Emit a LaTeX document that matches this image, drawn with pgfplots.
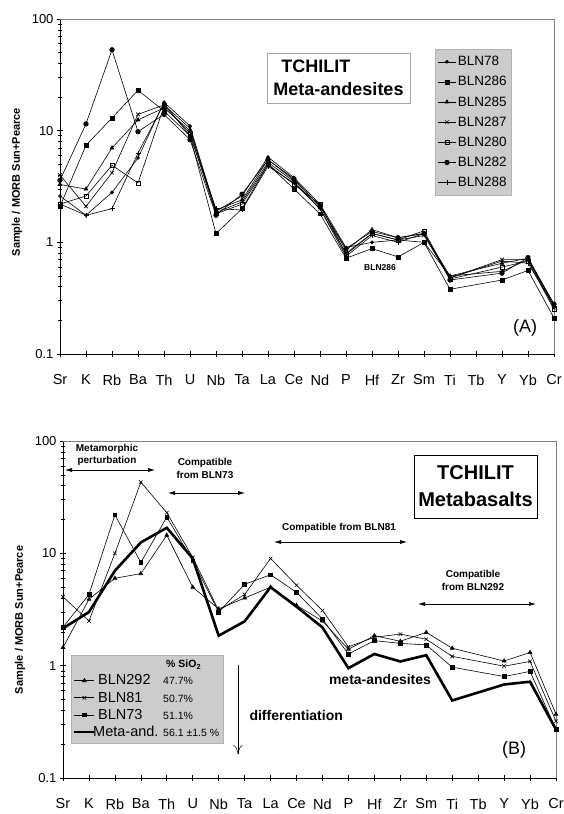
\documentclass[border=0pt]{standalone}
\usepackage{fontspec}
\setmainfont{Liberation Sans}
\usepackage{pgfplots}
\pgfplotsset{compat=1.18}
\usetikzlibrary{arrows.meta}
\begin{document}
\begin{tikzpicture}
\useasboundingbox (0,0) rectangle (563pt,-814pt);
% ---------------- Panel A ----------------
\begin{axis}[at={(60pt,-354pt)}, anchor=south west, width=494pt, height=335pt,
  scale only axis, ymode=log, ymin=0.1, ymax=100, xmin=0, xmax=19,
  axis x line*=bottom, axis y line*=left,
  xtick={0,...,19}, xticklabels={Sr,K,Rb,Ba,Th,U,Nb,Ta,La,Ce,Nd,P,Hf,Zr,Sm,Ti,Tb,Y,Yb,Cr},
  ytick={0.1,1,10,100}, yticklabels={0.1,1,10,100},
  tick align=center, major tick length=6pt, minor tick length=4pt,
  tick style={black, line width=0.6pt},
  axis line style={line width=0.7pt},
  yticklabel style={font=\fontsize{13}{14}\selectfont},
  xticklabel style={font=\fontsize{14.5}{15}\selectfont, yshift=-14pt},
  /pgf/number format/assume math mode=true,
  ylabel={Sample / MORB Sun+Pearce},
  ylabel style={font=\fontsize{11}{12}\selectfont\bfseries, at={(axis description cs:-0.087,0.513)}, anchor=center},
  clip=false,
  legend style={at={(0.759,0.91)}, anchor=north west, fill=gray!40, draw=gray!60,
    font=\fontsize{13.5}{14}\selectfont, row sep=5.2pt, inner xsep=3pt, inner ysep=5pt},
  legend cell align=left]
\addplot[black, line width=0.6pt, mark=*, mark size=1.5pt] coordinates {(0,2.6)(1,1.75)(2,2.8)(3,5.7)(4,18)(5,11)(6,1.9)(7,2.6)(8,5.8)(9,3.8)(10,2.2)(11,0.9)(12,1.0)(13,1.05)(14,1.0)(15,0.5)(17,0.55)(18,0.7)(19,0.28)};
\addlegendentry{BLN78}
\addplot[black, line width=0.6pt, mark=square*, mark size=1.9pt] coordinates {(0,2.1)(1,7.4)(2,13)(3,23)(4,15)(5,9)(6,1.2)(7,2.0)(8,5.0)(9,3.0)(10,1.8)(11,0.72)(12,0.88)(13,0.74)(14,1.0)(15,0.38)(17,0.46)(18,0.56)(19,0.21)};
\addlegendentry{BLN286}
\addplot[black, line width=0.6pt, mark=triangle*, mark size=2.2pt] coordinates {(0,3.3)(1,3.0)(2,7.0)(3,12.5)(4,16)(5,10)(6,1.95)(7,2.4)(8,5.5)(9,3.6)(10,2.1)(11,0.85)(12,1.3)(13,1.1)(14,1.2)(15,0.5)(17,0.65)(18,0.72)(19,0.27)};
\addlegendentry{BLN285}
\addplot[black, line width=0.6pt, mark=x, mark size=2.5pt] coordinates {(0,4.0)(1,2.1)(2,4.2)(3,14)(4,17)(5,10.5)(6,1.85)(7,2.3)(8,5.2)(9,3.5)(10,2.0)(11,0.8)(12,1.2)(13,1.05)(14,1.15)(15,0.48)(17,0.7)(18,0.7)(19,0.26)};
\addlegendentry{BLN287}
\addplot[black, line width=0.6pt, mark=square, mark size=1.9pt, mark options={fill=white}] coordinates {(0,2.2)(1,2.6)(2,4.9)(3,3.4)(4,16.5)(5,9.5)(6,1.8)(7,2.2)(8,5.0)(9,3.3)(10,2.2)(11,0.78)(12,1.2)(13,1.05)(14,1.27)(15,0.47)(17,0.6)(18,0.68)(19,0.25)};
\addlegendentry{BLN280}
\addplot[black, line width=0.6pt, mark=*, mark size=2.3pt] coordinates {(0,3.6)(1,11.5)(2,53)(3,9.8)(4,14)(5,8.3)(6,1.75)(7,2.7)(8,5.5)(9,3.7)(10,2.1)(11,0.88)(12,1.25)(13,1.1)(14,1.2)(15,0.46)(17,0.53)(18,0.73)(19,0.28)};
\addlegendentry{BLN282}
\addplot[black, line width=0.6pt, mark=+, mark size=2.5pt] coordinates {(0,2.2)(1,1.75)(2,2.0)(3,6.3)(4,17.5)(5,9.0)(6,2.0)(7,1.95)(8,4.8)(9,3.4)(10,2.0)(11,0.75)(12,1.15)(13,1.0)(14,1.2)(15,0.48)(17,0.68)(18,0.65)(19,0.27)};
\addlegendentry{BLN288}
\draw[gray, line width=0.6pt] (rel axis cs:0,1) -- (rel axis cs:1,1) -- (rel axis cs:1,0);
\end{axis}
\node[draw=gray!70, line width=0.6pt, minimum width=143pt, minimum height=50pt, align=left,
  font=\fontsize{18}{23}\selectfont\bfseries] at (338.5pt,-78pt) {\hspace*{8pt}TCHILIT\\Meta-andesites};
\node[font=\fontsize{8.5}{9}\selectfont\bfseries] at (380pt,-268pt) {BLN286};
\node[font=\fontsize{18}{20}\selectfont] at (525pt,-328pt) {(A)};
% ---------------- Panel B ----------------
\begin{axis}[at={(63pt,-778pt)}, anchor=south west, width=493pt, height=337pt,
  scale only axis, ymode=log, ymin=0.1, ymax=100, xmin=0, xmax=19,
  axis x line*=bottom, axis y line*=left,
  xtick={0,...,19}, xticklabels={Sr,K,Rb,Ba,Th,U,Nb,Ta,La,Ce,Nd,P,Hf,Zr,Sm,Ti,Tb,Y,Yb,Cr},
  ytick={0.1,1,10,100}, yticklabels={0.1,1,10,100},
  tick align=center, major tick length=6pt, minor tick length=4pt,
  tick style={black, line width=0.6pt},
  axis line style={line width=0.7pt},
  yticklabel style={font=\fontsize{13}{14}\selectfont},
  xticklabel style={font=\fontsize{14.5}{15}\selectfont, yshift=-14pt},
  /pgf/number format/assume math mode=true,
  ylabel={Sample / MORB Sun+Pearce},
  ylabel style={font=\fontsize{11}{12}\selectfont\bfseries, at={(axis description cs:-0.087,0.469)}, anchor=center},
  clip=false,
  legend image code/.code={\draw[mark repeat=2,mark phase=2] plot coordinates {(0pt,0pt)(10pt,0pt)(20pt,0pt)};},
  legend style={at={(0.016,0.365)}, anchor=north west, fill=gray!40, draw=gray!60,
    font=\fontsize{14.5}{15}\selectfont, row sep=1.5pt, inner xsep=2pt, inner ysep=3pt,
    nodes={inner xsep=2.5pt}},
  legend cell align=left]
\addlegendimage{empty legend}
\addlegendentry{\hspace*{68pt}{\fontsize{10.5}{10}\selectfont\bfseries \% SiO\textsubscript{2}}}
\addplot[black, line width=0.6pt, mark=triangle*, mark size=2.2pt] coordinates {(0,1.45)(1,3.9)(2,6.0)(3,6.6)(4,14.5)(5,5.0)(6,3.2)(7,4.0)(8,5.0)(9,3.45)(10,2.5)(11,1.4)(12,1.85)(13,1.65)(14,1.98)(15,1.43)(17,1.1)(18,1.31)(19,0.37)};
\addlegendentry{\makebox[65pt][l]{BLN292}{\fontsize{10.5}{10}\selectfont 47.7\%}}
\addplot[black, line width=0.6pt, mark=x, mark size=2.5pt] coordinates {(0,4.1)(1,2.5)(2,10)(3,43)(4,23)(5,9.2)(6,3.1)(7,4.3)(8,9.0)(9,5.2)(10,3.1)(11,1.47)(12,1.79)(13,1.91)(14,1.72)(15,1.21)(17,0.99)(18,1.09)(19,0.32)};
\addlegendentry{\makebox[65pt][l]{BLN81}{\fontsize{10.5}{10}\selectfont 50.7\%}}
\addplot[black, line width=0.6pt, mark=square*, mark size=1.9pt] coordinates {(0,2.2)(1,4.3)(2,22)(3,8.3)(4,21)(5,8.6)(6,3.0)(7,5.3)(8,6.45)(9,4.5)(10,2.6)(11,1.27)(12,1.67)(13,1.58)(14,1.53)(15,0.97)(17,0.8)(18,0.89)(19,0.27)};
\addlegendentry{\makebox[65pt][l]{BLN73}{\fontsize{10.5}{10}\selectfont 51.1\%}}
\addplot[black, no marks, line width=2.6pt] coordinates {(0,2.15)(1,3.0)(2,7.0)(3,12.5)(4,16.9)(5,9.0)(6,1.85)(7,2.48)(8,5.0)(9,3.35)(10,2.19)(11,0.95)(12,1.27)(13,1.09)(14,1.24)(15,0.49)(17,0.68)(18,0.72)(19,0.27)};
\addlegendentry{\hspace*{-5pt}\makebox[70pt][l]{Meta-and.}{\fontsize{10.5}{10}\selectfont 56.1 ±1.5 \%}}
\draw[gray, line width=0.6pt] (rel axis cs:0,1) -- (rel axis cs:1,1) -- (rel axis cs:1,0);
\end{axis}
\node[draw=black, line width=0.6pt, minimum width=123pt, minimum height=63pt, align=center,
  font=\fontsize{20}{27}\selectfont\bfseries] at (475.5pt,-486.5pt) {TCHILIT\\Metabasalts};
\node[font=\fontsize{10}{12}\selectfont\bfseries, align=center] at (107pt,-455pt) {Metamorphic\\perturbation};
\draw[{Latex[length=7pt,width=4pt]}-{Latex[length=7pt,width=4pt]}, line width=0.6pt] (65pt,-470pt) -- (155pt,-470pt);
\node[font=\fontsize{10}{13}\selectfont\bfseries, align=center] at (205pt,-468pt) {Compatible\\from BLN73};
\draw[{Latex[length=7pt,width=4pt]}-{Latex[length=7pt,width=4pt]}, line width=0.6pt] (168pt,-493pt) -- (245pt,-493pt);
\node[font=\fontsize{10}{12}\selectfont\bfseries] at (339pt,-528pt) {Compatible from BLN81};
\draw[{Latex[length=7pt,width=4pt]}-{Latex[length=7pt,width=4pt]}, line width=0.6pt] (274pt,-542pt) -- (407pt,-542pt);
\node[font=\fontsize{10}{13}\selectfont\bfseries, align=center] at (473pt,-580pt) {Compatible\\from BLN292};
\draw[{Latex[length=7pt,width=4pt]}-{Latex[length=7pt,width=4pt]}, line width=0.6pt] (418pt,-604pt) -- (536pt,-604pt);
\draw[-{To[length=9pt,width=9pt]}, line width=0.5pt] (238pt,-665pt) -- (238pt,-754pt);
\node[font=\fontsize{14}{14}\selectfont\bfseries, anchor=west] at (246pt,-715pt) {differentiation};
\node[font=\fontsize{14}{14}\selectfont\bfseries] at (380pt,-679pt) {meta-andesites};
\node[font=\fontsize{18}{20}\selectfont] at (514pt,-750pt) {(B)};
\end{tikzpicture}
\end{document}
